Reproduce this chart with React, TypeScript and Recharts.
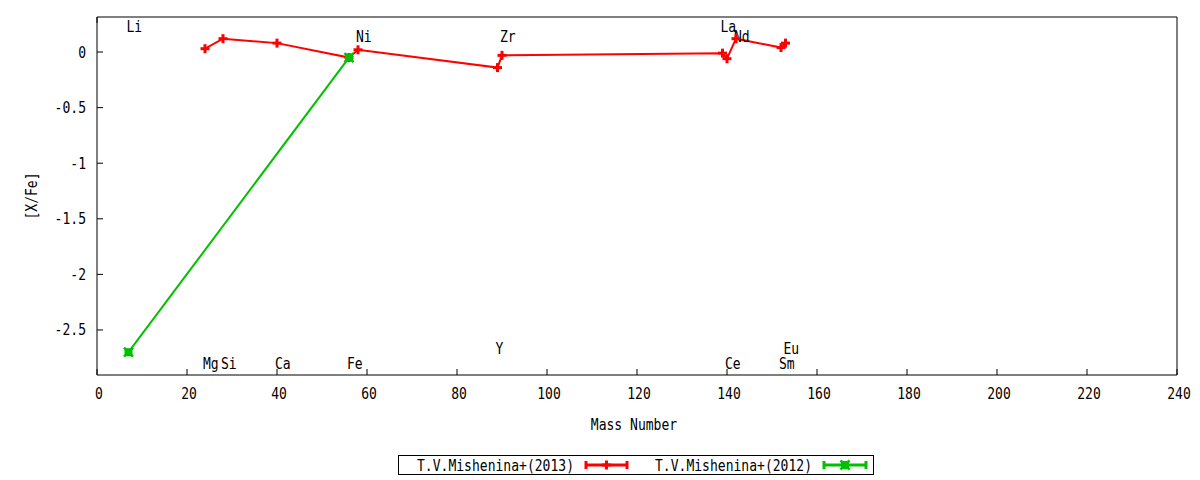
import React from 'react';
import { ComposedChart, Line, Scatter, XAxis, YAxis } from 'recharts';

// [X/Fe] abundances against mass number
const massRed = [24, 28, 40, 56, 58, 89, 90, 139, 140, 142, 152, 153];
const xfeRed = [0.03, 0.12, 0.08, -0.05, 0.02, -0.14, -0.03, -0.01, -0.06, 0.12, 0.04, 0.08];
const massGreen = [7, 56];
const xfeGreen = [-2.7, -0.05];

const elements = ['Li', 'Mg', 'Si', 'Ca', 'Fe', 'Ni', 'Y', 'Zr', 'La', 'Ce', 'Nd', 'Sm', 'Eu'];
const elementMass = [7, 24, 28, 40, 56, 58, 89, 90, 139, 140, 142, 152, 153];
const elementLabelY = [0.23, -2.8, -2.8, -2.8, -2.8, 0.14, -2.67, 0.14, 0.23, -2.8, 0.14, -2.8, -2.67];

const xTicks = [0, 20, 40, 60, 80, 100, 120, 140, 160, 180, 200, 220, 240];
const yTicks = [0, -0.5, -1, -1.5, -2, -2.5];

const RED = '#ff0000';
const GREEN = '#00c000';

const redData = massRed.map((m, i) => ({ mass: m, xfe: xfeRed[i] }));
const greenData = massGreen.map((m, i) => ({ mass: m, xfe: xfeGreen[i] }));
const labelData = elements.map((n, i) => ({ mass: elementMass[i], xfe: elementLabelY[i], name: n }));

const SText = ({ x, y, anchor = 'start', rotate = 0, children }: any) => (
  <text
    transform={`translate(${x},${y}) rotate(${rotate}) scale(0.87,1)`}
    textAnchor={anchor}
    fontFamily="DejaVu Sans Mono"
    fontSize={15}
    fill="#000"
  >
    {children}
  </text>
);

const BottomTick = ({ x, y, payload }: any) => (
  <g>
    <line x1={x} x2={x} y1={y} y2={y - 6} stroke="#000" />
    <SText x={x + 2} y={y + 24} anchor="middle">{payload.value}</SText>
  </g>
);
const TopTick = ({ x, y }: any) => <line x1={x} x2={x} y1={y} y2={y + 6} stroke="#000" />;
const LeftTick = ({ x, y, payload }: any) => (
  <g>
    <line x1={x} x2={x + 6} y1={y} y2={y} stroke="#000" />
    <SText x={x - 11} y={y + 5.5} anchor="end">{payload.value}</SText>
  </g>
);
const RightTick = ({ x, y }: any) => <line x1={x} x2={x - 6} y1={y} y2={y} stroke="#000" />;

const Plus = ({ cx, cy }: any) => {
  if (cx == null || cy == null) return null;
  return (
    <g stroke={RED} strokeWidth={3}>
      <line x1={cx - 4.5} x2={cx + 4.5} y1={cy} y2={cy} />
      <line x1={cx} x2={cx} y1={cy - 4.5} y2={cy + 4.5} />
    </g>
  );
};

const Cross = ({ cx, cy }: any) => {
  if (cx == null || cy == null) return null;
  return (
    <g>
      <rect x={cx - 4} y={cy - 4} width={8} height={8} fill={GREEN} />
      <g stroke={GREEN} strokeWidth={2.5}>
        <line x1={cx - 4.5} x2={cx + 4.5} y1={cy - 4.5} y2={cy + 4.5} />
        <line x1={cx - 4.5} x2={cx + 4.5} y1={cy + 4.5} y2={cy - 4.5} />
      </g>
    </g>
  );
};

const ElementLabel = ({ cx, cy, payload }: any) => (
  <SText x={cx - 2} y={cy + 5.5}>{payload.name}</SText>
);

const LegendSample = ({ x1, x2, y, color, marker }: any) => (
  <g>
    <line x1={x1} x2={x2} y1={y} y2={y} stroke={color} strokeWidth={3} />
    <line x1={x1 + 1} x2={x1 + 1} y1={y - 4} y2={y + 4} stroke={color} strokeWidth={3} />
    <line x1={x2 - 1} x2={x2 - 1} y1={y - 4} y2={y + 4} stroke={color} strokeWidth={3} />
    {marker}
  </g>
);

export default function App() {
  return (
    <div style={{ position: 'absolute', left: 0, top: 0, width: 1200, height: 480, background: '#fff' }}>
      <ComposedChart width={1200} height={480} data={redData} margin={{ top: 0, right: 0, bottom: 0, left: 0 }}>
        <XAxis
          dataKey="mass"
          type="number"
          domain={[0, 240]}
          ticks={xTicks}
          interval={0}
          allowDataOverflow
          height={105}
          tickSize={0}
          tickMargin={0}
          tickLine={false}
          axisLine={{ stroke: '#000' }}
          tick={<BottomTick />}
          label={{
            content: ({ viewBox }: any) => (
              <SText x={viewBox.x + viewBox.width / 2 - 3} y={viewBox.y + 55} anchor="middle">Mass Number</SText>
            ),
          }}
        />
        <XAxis
          xAxisId="top"
          orientation="top"
          type="number"
          domain={[0, 240]}
          ticks={xTicks}
          interval={0}
          height={17}
          tickSize={0}
          tickMargin={0}
          tickLine={false}
          axisLine={{ stroke: '#000' }}
          tick={<TopTick />}
        />
        <YAxis
          type="number"
          domain={[-2.905, 0.315]}
          ticks={yTicks}
          interval={0}
          allowDataOverflow
          width={97}
          tickSize={0}
          tickMargin={0}
          tickLine={false}
          axisLine={{ stroke: '#000' }}
          tick={<LeftTick />}
          label={{
            content: () => <SText x={37} y={196} rotate={-90} anchor="middle">[X/Fe]</SText>,
          }}
        />
        <YAxis
          yAxisId="right"
          orientation="right"
          type="number"
          domain={[-2.905, 0.315]}
          ticks={yTicks}
          interval={0}
          width={23}
          tickSize={0}
          tickMargin={0}
          tickLine={false}
          axisLine={{ stroke: '#000' }}
          tick={<RightTick />}
        />
        <Scatter data={labelData} dataKey="xfe" shape={<ElementLabel />} isAnimationActive={false} />
        <Line
          data={redData}
          dataKey="xfe"
          type="linear"
          stroke={RED}
          strokeWidth={2}
          dot={<Plus />}
          activeDot={false}
          isAnimationActive={false}
        />
        <Line
          data={greenData}
          dataKey="xfe"
          type="linear"
          stroke={GREEN}
          strokeWidth={2}
          dot={<Cross />}
          activeDot={false}
          isAnimationActive={false}
        />
      </ComposedChart>
      <svg width={1200} height={480} style={{ position: 'absolute', left: 0, top: 0, pointerEvents: 'none' }}>
        <rect x={398.5} y={455.5} width={475} height={19} fill="none" stroke="#000" />
        <SText x={417} y={470.5}>T.V.Mishenina+(2013)</SText>
        <LegendSample x1={585} x2={628} y={465} color={RED} marker={<Plus cx={606.5} cy={465} />} />
        <SText x={655} y={470.5}>T.V.Mishenina+(2012)</SText>
        <LegendSample x1={823} x2={867} y={465} color={GREEN} marker={<Cross cx={845} cy={465} />} />
      </svg>
    </div>
  );
}
